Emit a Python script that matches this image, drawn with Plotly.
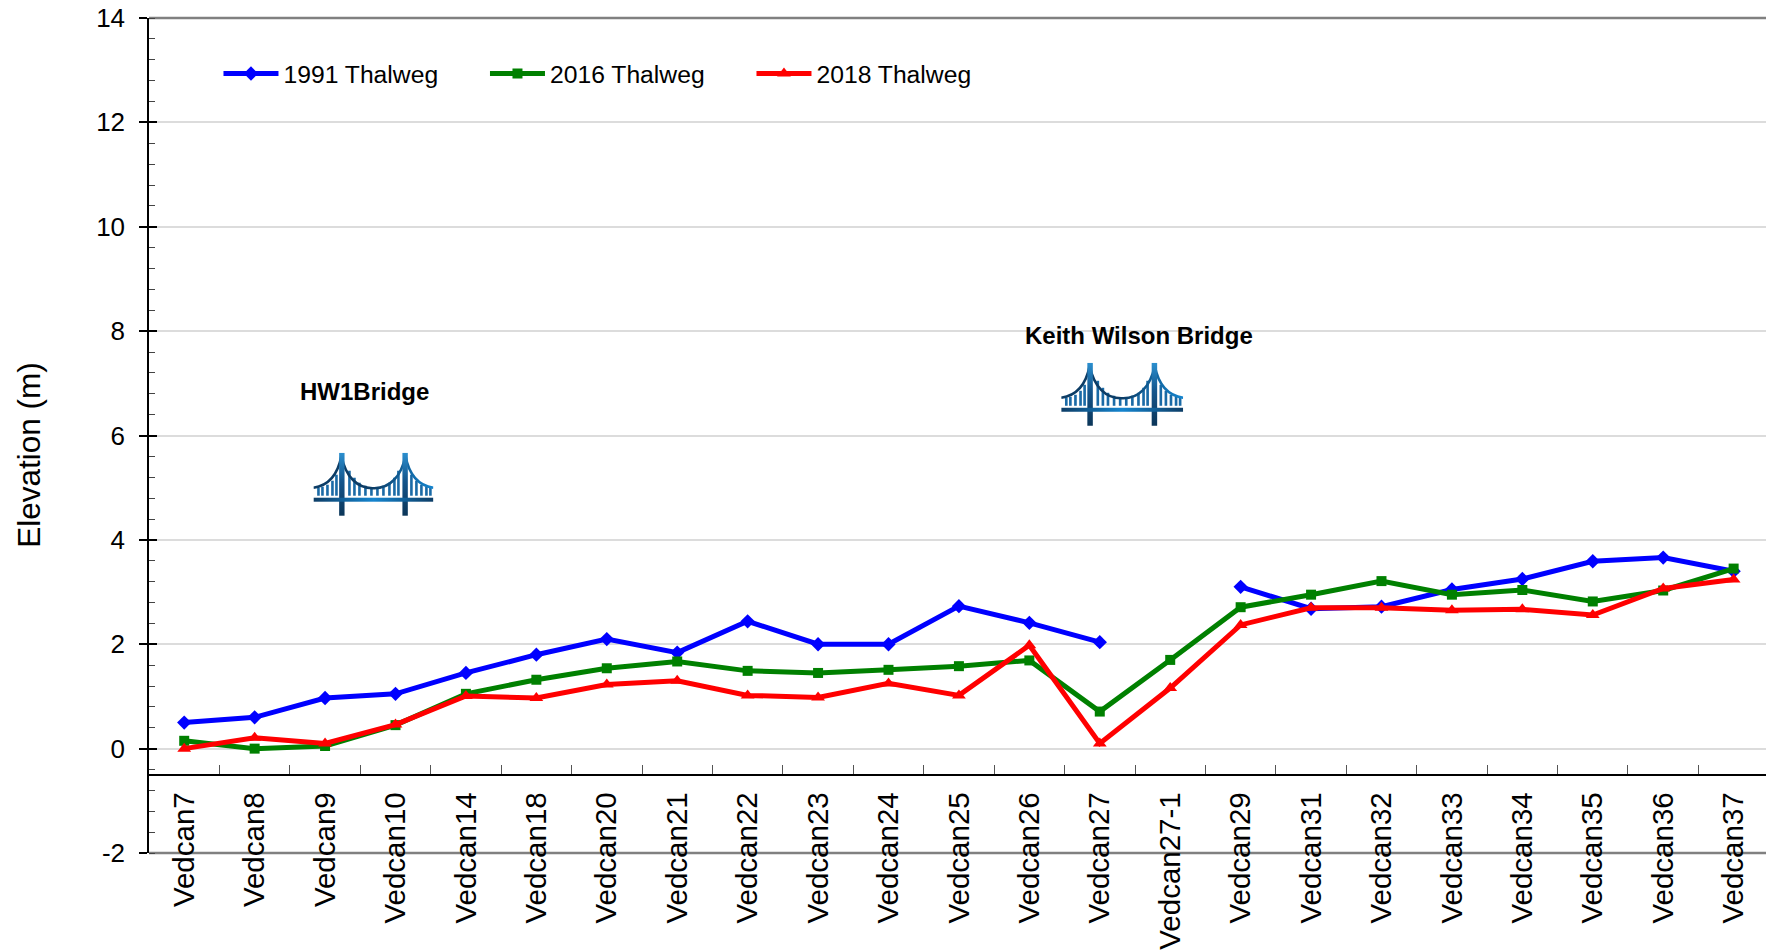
import base64
import plotly.graph_objects as go

categories = ["Vedcan7","Vedcan8","Vedcan9","Vedcan10","Vedcan14","Vedcan18","Vedcan20","Vedcan21",
              "Vedcan22","Vedcan23","Vedcan24","Vedcan25","Vedcan26","Vedcan27","Vedcan27-1","Vedcan29",
              "Vedcan31","Vedcan32","Vedcan33","Vedcan34","Vedcan35","Vedcan36","Vedcan37"]
thalweg_1991 = [0.50,0.60,0.97,1.05,1.45,1.80,2.10,1.84,2.44,2.00,2.00,2.73,2.41,2.04,None,3.10,2.68,2.72,3.05,3.25,3.59,3.66,3.40]
thalweg_2016 = [0.15,0.00,0.05,0.45,1.05,1.32,1.54,1.67,1.49,1.45,1.51,1.58,1.69,0.71,1.70,2.71,2.95,3.21,2.95,3.04,2.82,3.03,3.45]
thalweg_2018 = [0.00,0.21,0.10,0.46,1.01,0.97,1.23,1.30,1.02,0.98,1.25,1.02,1.98,0.10,1.16,2.37,2.70,2.70,2.65,2.67,2.56,3.07,3.24]
y_ticks = [-2, 0, 2, 4, 6, 8, 10, 12, 14]
y_tick_labels = ["-2", "0", "2", "4", "6", "8", "10", "12", "14"]

W, H = 1766, 951
L, T, R_edge, B_edge = 148.5, 18.0, 1766.0, 853.5
BAND = 70.45
FONT = "Liberation Sans"

def bridge_svg():
    parts = ['<svg xmlns="http://www.w3.org/2000/svg" viewBox="0 0 120 64">',
             '<defs><linearGradient id="g" x1="0" y1="0" x2="0" y2="1">'
             '<stop offset="0" stop-color="#2b8fcf"/><stop offset="0.45" stop-color="#14558c"/>'
             '<stop offset="1" stop-color="#0b3558"/></linearGradient>'
             '<linearGradient id="d" x1="0" y1="0" x2="1" y2="0">'
             '<stop offset="0" stop-color="#0d3d66"/><stop offset="0.5" stop-color="#1585cf"/>'
             '<stop offset="1" stop-color="#0d3d66"/></linearGradient>'
             '<linearGradient id="c" x1="0" y1="0" x2="1" y2="0">'
             '<stop offset="0" stop-color="#0d3d66"/><stop offset="0.5" stop-color="#0d3d66"/>'
             '<stop offset="1" stop-color="#1585cf"/></linearGradient></defs>']
    tops = {5:35,9:34,14:32,19:28,23:22,36:18,41:25,46:30,52:33,58:35,64:35,70:33,76:30,81:25,85:18,
            98:22,103:28,108:32,113:34,117:35}
    for h, t in tops.items():
        parts.append(f'<rect x="{h-1.3}" y="{t}" width="2.6" height="{43-t}" fill="#1a6aa6"/>')
    parts.append('<path d="M0,35 C14,33 24,24 28,3 C32,24 44,36 60,35.5 C76,36 88,24 92,3 C96,24 106,33 120,35" '
                 'fill="none" stroke="url(#c)" stroke-width="2.6"/>')
    parts.append('<rect x="25.7" y="0" width="5.4" height="63" fill="url(#g)"/>')
    parts.append('<rect x="89" y="0" width="5.4" height="63" fill="url(#g)"/>')
    parts.append('<rect x="0" y="45" width="120" height="4" fill="url(#d)"/>')
    parts.append('</svg>')
    return "data:image/svg+xml;base64," + base64.b64encode("".join(parts).encode()).decode()

ICON = bridge_svg()
PW = R_edge - L
PH = B_edge - T
def px(x): return (x - L) / PW
def py(y): return (B_edge - y) / PH

fig = go.Figure()
styles = [("1991 Thalweg", thalweg_1991, "#0000ff", "diamond", 11),
          ("2016 Thalweg", thalweg_2016, "#008000", "square", 10),
          ("2018 Thalweg", thalweg_2018, "#ff0000", "triangle-up", 12)]
for name, vals, col, sym, ms in styles:
    fig.add_trace(go.Scatter(x=categories, y=vals, name=name, mode="lines+markers",
                             line=dict(color=col, width=5), connectgaps=False,
                             marker=dict(color=col, symbol=sym, size=ms)))
fig.add_trace(go.Scatter(x=[categories[0]], y=[None], yaxis="y2", showlegend=False, hoverinfo="skip"))

fig.update_layout(
    width=W, height=H, margin=dict(l=L, r=0, t=T, b=H - B_edge, pad=0, autoexpand=False),
    paper_bgcolor="white", plot_bgcolor="white",
    font=dict(family=FONT, color="black", size=24),
    xaxis=dict(type="category", categoryorder="array", categoryarray=categories,
               range=[-0.5, (R_edge - L) / BAND - 0.5], anchor="free", position=1.5 / 16,
               showline=True, linecolor="black", linewidth=1.5,
               ticks="inside", ticklen=9, tickwidth=1, tickcolor="#555555", tickson="boundaries",
               tickangle=-90, tickfont=dict(size=29.5, family=FONT), ticklabelstandoff=5,
               showgrid=False, zeroline=False),
    yaxis=dict(range=[-2, 14], tickmode="array", tickvals=y_ticks, ticktext=y_tick_labels,
               showline=True, linecolor="black", linewidth=1.5,
               ticks="outside", ticklen=8, tickwidth=1.5, tickcolor="black",
               tickfont=dict(size=26, family=FONT), ticklabelstandoff=9,
               showgrid=True, gridcolor="#dcdcdc", gridwidth=2, zeroline=False,
               minor=dict(dtick=0.4, tick0=-2, ticks="inside", ticklen=6, tickwidth=1, tickcolor="#444444", showgrid=False)),
    yaxis2=dict(range=[-2, 14], overlaying="y", side="left", tick0=-2, dtick=2, ticks="inside", ticklen=8,
                tickwidth=1.5, tickcolor="black", showticklabels=False, showgrid=False, zeroline=False, showline=False),
    legend=dict(orientation="h", x=px(218), y=py(74), xanchor="left", yanchor="middle",
                itemwidth=55, entrywidth=196.5, entrywidthmode="pixels", itemsizing="trace",
                font=dict(size=24.7, family=FONT), bgcolor="rgba(0,0,0,0)", traceorder="normal"),
    showlegend=True,
    shapes=[dict(type="line", xref="paper", x0=0, x1=1, yref="paper", y0=v, y1=v, layer="between",
                 line=dict(color="#808080", width=2.4)) for v in (0, 1)],
    annotations=[
        dict(text="Elevation (m)", xref="paper", yref="paper", x=px(28.5), y=py(455), showarrow=False, textangle=-90,
             xanchor="center", yanchor="middle", font=dict(size=31.5, family=FONT, color="black")),
        dict(text="<b>HW1Bridge</b>", xref="paper", yref="paper", x=px(364), y=py(392), showarrow=False,
             xanchor="center", yanchor="middle", font=dict(size=24, family=FONT, color="black")),
        dict(text="<b>Keith Wilson Bridge</b>", xref="paper", yref="paper", x=px(1139), y=py(336), showarrow=False,
             xanchor="center", yanchor="middle", font=dict(size=24, family=FONT, color="black")),
    ],
    images=[
        dict(source=ICON, xref="paper", yref="paper", x=px(313), y=py(453), sizex=120 / PW, sizey=64 / PH,
             xanchor="left", yanchor="top", sizing="stretch", layer="above"),
        dict(source=ICON, xref="paper", yref="paper", x=px(1061), y=py(363), sizex=122 / PW, sizey=64 / PH,
             xanchor="left", yanchor="top", sizing="stretch", layer="above"),
    ],
)
fig.write_html("out.html", config=dict(displayModeBar=False),
               post_script="document.body.style.margin='0';document.documentElement.style.overflow='hidden';")
